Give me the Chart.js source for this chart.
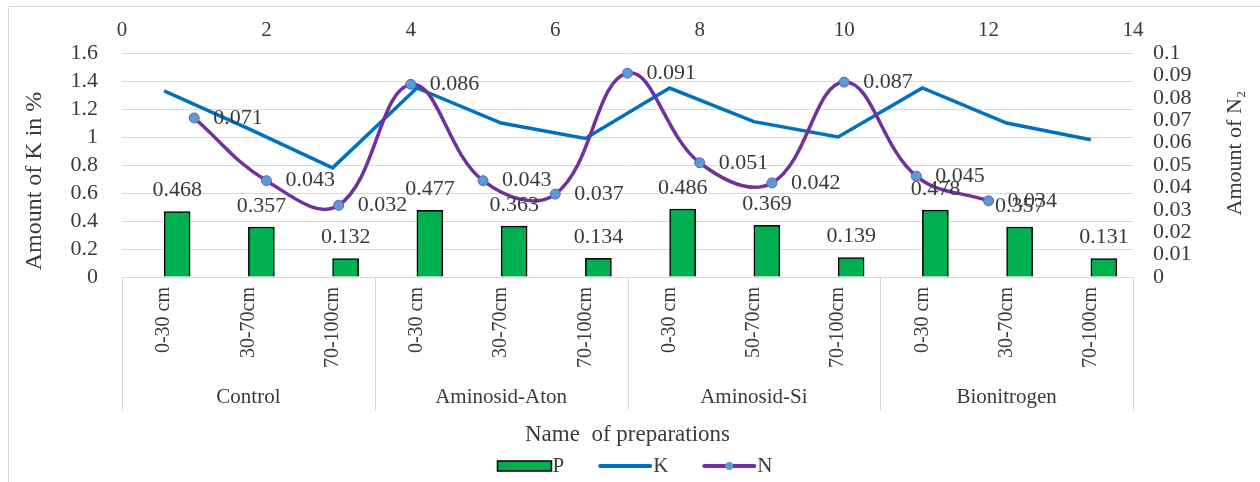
<!DOCTYPE html>
<html>
<head>
<meta charset="utf-8">
<title>P, K, N by preparation</title>
<script src="https://cdn.jsdelivr.net/npm/chart.js@4.4.1/dist/chart.umd.min.js"></script>
<style>
    html, body { margin: 0; padding: 0; background: #fff; }
    #wrap { width: 1260px; height: 482px; }
</style>
</head>
<body>
<div id="wrap"><canvas id="nutrientChart" width="1260" height="482"></canvas></div>
<script>
// soil depth per preparation (the 4th group repeats the first)
const depthLabels = ['0-30 cm', '30-70cm', '70-100cm', '0-30 cm', '30-70cm', '70-100cm',
    '0-30 cm', '50-70cm', '70-100cm', '0-30 cm', '30-70cm', '70-100cm'];
const groupLabels = ['Control', 'Aminosid-Aton', 'Aminosid-Si', 'Bionitrogen'];

const pValues = [0.468, 0.357, 0.132, 0.477, 0.363, 0.134, 0.486, 0.369, 0.139, 0.478, 0.357, 0.131];
const kValues = [1.33, 1.06, 0.78, 1.35, 1.10, 0.99, 1.35, 1.11, 1.00, 1.35, 1.10, 0.98];
const nPositions = [1, 2, 3, 4, 5, 6, 7, 8, 9, 10, 11, 12];
const nValues = [0.071, 0.043, 0.032, 0.086, 0.043, 0.037, 0.091, 0.051, 0.042, 0.087, 0.045, 0.034];

const serif = "'Liberation Serif', 'Times New Roman', serif";
const textColor = '#3a3a3a';
const gridColor = '#d9d9d9';

const extras = {
    id: 'extras',
    beforeDraw(chart) {
        const c = chart.ctx;
        c.save();
        c.strokeStyle = gridColor;
        c.lineWidth = 1;
        c.beginPath();
        c.moveTo(8.5, chart.height);
        c.lineTo(8.5, 6.5);
        c.lineTo(chart.width, 6.5);
        c.stroke();
        c.restore();
    },
    afterDatasetsDraw(chart) {
        const c = chart.ctx;
        c.save();
        c.fillStyle = textColor;
        c.font = '22px ' + serif;
        c.textBaseline = 'middle';

        c.textAlign = 'center';
        chart.getDatasetMeta(2).data.forEach(function (bar, i) {
            c.fillText(pValues[i].toFixed(3), bar.x, bar.y - 21);
        });

        c.textAlign = 'left';
        chart.getDatasetMeta(0).data.forEach(function (pt, i) {
            c.fillText(nValues[i].toFixed(3), pt.x + 19, pt.y);
        });
        c.restore();
    },
    afterDraw(chart) {
        const c = chart.ctx;
        const xs = chart.scales.x;
        const area = chart.chartArea;
        const step = xs.getPixelForValue(1) - xs.getPixelForValue(0);

        c.save();
        // group separators under the axis
        c.strokeStyle = gridColor;
        c.lineWidth = 1;
        for (let g = 0; g <= groupLabels.length; g++) {
            const bx = Math.round(xs.getPixelForValue(g * 3) - step / 2) + 0.5;
            c.beginPath();
            c.moveTo(bx, area.bottom);
            c.lineTo(bx, area.bottom + 133);
            c.stroke();
        }

        c.fillStyle = textColor;
        c.textAlign = 'center';
        c.textBaseline = 'middle';
        c.font = '21px ' + serif;
        groupLabels.forEach(function (name, g) {
            c.fillText(name, xs.getPixelForValue(g * 3 + 1), area.bottom + 120);
        });

        // axis titles, both reading bottom to top
        c.save();
        c.font = '24px ' + serif;
        c.translate(35, 181);
        c.rotate(-Math.PI / 2);
        c.fillText('Amount of K in %', 0, 0);
        c.restore();

        c.save();
        c.font = '22px ' + serif;
        c.translate(1235, 153);
        c.rotate(-Math.PI / 2);
        c.fillText('Amount of N\u2082', 0, 0);
        c.restore();

        // legend
        c.font = '21px ' + serif;
        const items = ['P', 'K', 'N'];
        const boxW = 54;
        const gap = 34;
        const widths = items.map(function (t) { return c.measureText(t).width; });
        let total = 0;
        widths.forEach(function (w, i) { total += boxW + 1 + w + (i < items.length - 1 ? gap : 0); });
        let lx = 635 - total / 2;
        const ly = 466;
        c.textAlign = 'left';
        items.forEach(function (t, i) {
            if (t === 'P') {
                c.fillStyle = '#00B050';
                c.fillRect(lx, ly - 5, boxW, 10);
                c.strokeStyle = '#000';
                c.lineWidth = 1.5;
                c.strokeRect(lx, ly - 5, boxW, 10);
            } else {
                c.strokeStyle = t === 'K' ? '#0070C0' : '#7030A0';
                c.lineWidth = 4;
                c.lineCap = 'round';
                c.beginPath();
                c.moveTo(lx + 2, ly);
                c.lineTo(lx + boxW - 2, ly);
                c.stroke();
                if (t === 'N') {
                    c.fillStyle = '#5B9BD5';
                    c.beginPath();
                    c.arc(lx + boxW / 2, ly, 4, 0, Math.PI * 2);
                    c.fill();
                }
            }
            c.fillStyle = textColor;
            c.fillText(t, lx + boxW + 1, ly);
            lx += boxW + 1 + widths[i] + gap;
        });
        c.restore();
    }
};

new Chart(document.getElementById('nutrientChart'), {
    type: 'bar',
    data: {
        labels: depthLabels,
        datasets: [{
            type: 'line',
            label: 'N',
            data: nValues.map(function (v, i) { return { x: nPositions[i], y: v }; }),
            xAxisID: 'xTop',
            yAxisID: 'yRight',
            borderColor: '#7030A0',
            borderWidth: 3.5,
            tension: 0.4,
            pointRadius: 5,
            pointBackgroundColor: '#5B9BD5',
            pointBorderColor: '#6a5bbd',
            pointBorderWidth: 1,
            order: 0
        }, {
            type: 'line',
            label: 'K',
            data: kValues,
            xAxisID: 'x',
            yAxisID: 'y',
            borderColor: '#0070C0',
            borderWidth: 3.5,
            pointRadius: 0,
            tension: 0,
            order: 1
        }, {
            type: 'bar',
            label: 'P',
            data: pValues,
            xAxisID: 'x',
            yAxisID: 'y',
            backgroundColor: '#00B050',
            borderColor: '#000',
            borderWidth: 1.5,
            barThickness: 26,
            order: 2
        }]
    },
    options: {
        responsive: false,
        animation: false,
        layout: { padding: { left: 0, right: 0, top: 0, bottom: 30 } },
        plugins: {
            legend: { display: false },
            tooltip: { enabled: false }
        },
        scales: {
            x: {
                type: 'category',
                position: 'bottom',
                grid: { display: false, drawTicks: false },
                border: { display: false },
                ticks: {
                    color: textColor,
                    font: { family: serif, size: 20 },
                    minRotation: 90,
                    maxRotation: 90,
                    autoSkip: false,
                    padding: 10
                },
                title: {
                    display: true,
                    text: 'Name  of preparations',
                    color: textColor,
                    font: { family: serif, size: 23 },
                    padding: { top: 0, bottom: 3 }
                },
                afterFit: function (s) { s.height = 175; }
            },
            xTop: {
                type: 'linear',
                position: 'top',
                min: 0,
                max: 14,
                offset: false,
                grid: { display: false, drawTicks: false },
                border: { display: false },
                ticks: {
                    stepSize: 2,
                    color: textColor,
                    font: { family: serif, size: 21 },
                    padding: 10
                },
                afterFit: function (s) { s.height = 53; }
            },
            y: {
                type: 'linear',
                position: 'left',
                min: 0,
                max: 1.6,
                grid: { color: gridColor, drawTicks: false },
                border: { display: false },
                ticks: {
                    count: 9,
                    autoSkip: false,
                    color: textColor,
                    font: { family: serif, size: 22 },
                    padding: 24,
                    callback: function (v) { return String(+v.toFixed(1)); }
                },
                afterFit: function (s) { s.width = 122; }
            },
            yRight: {
                type: 'linear',
                position: 'right',
                min: 0,
                max: 0.1,
                grid: { display: false, drawTicks: false },
                border: { display: false },
                ticks: {
                    count: 11,
                    autoSkip: false,
                    color: textColor,
                    font: { family: serif, size: 22 },
                    padding: 20,
                    callback: function (v) { return String(+v.toFixed(2)); }
                },
                afterFit: function (s) { s.width = 127; }
            }
        }
    },
    plugins: [extras]
});
</script>
</body>
</html>
